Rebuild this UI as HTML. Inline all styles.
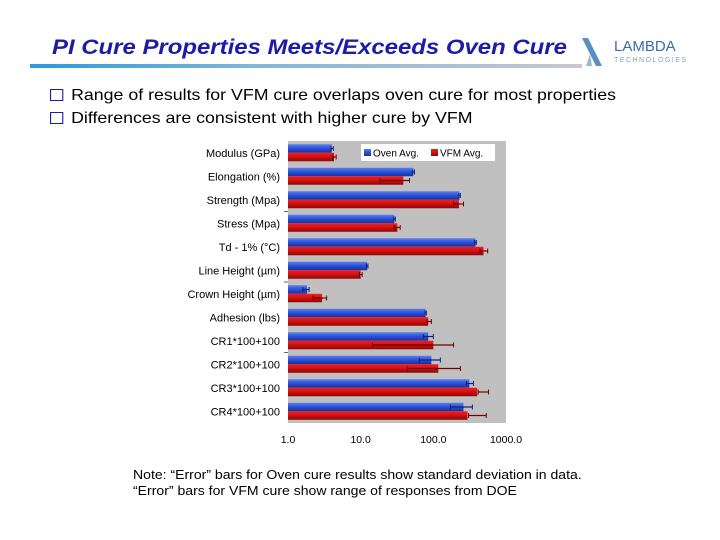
<!DOCTYPE html>
<html><head><meta charset="utf-8"><style>
body{margin:0;background:#fff;font-family:"Liberation Sans",sans-serif;}
#wrap{position:relative;width:720px;height:540px;overflow:hidden;}
.t{position:absolute;white-space:nowrap;transform-origin:0 0;}
</style></head><body>
<div id="wrap">
<div class="t" style="left:52px;top:36px;font-size:21px;font-weight:bold;font-style:italic;color:#1c1ca8;transform:scaleX(1.14);">PI Cure Properties Meets/Exceeds Oven Cure</div>
<div style="position:absolute;left:30px;top:64px;width:552px;height:4px;background:linear-gradient(90deg,#2a9ad8,#7fb6dc 40%,#c8c8d0);"></div>
<svg style="position:absolute;left:578px;top:34px" width="120" height="36">
<path d="M4 4 L18 32 L24 32 L10 4 Z" fill="#5a8fc0"/><path d="M12 20 L8 32 L14 32 Z" fill="#9ab8d4"/>
<text x="36" y="17" font-family="Liberation Sans" font-size="15" fill="#3a6ea8">LAMBDA</text>
<text x="36" y="28" font-family="Liberation Sans" font-size="7" fill="#8aa0b8" letter-spacing="1.5">TECHNOLOGIES</text>
</svg>
<div class="t" style="left:50px;top:87px;font-size:16px;color:#000;transform:scaleX(1.11);"><span style="display:inline-block;width:10px;height:10px;border:1.5px solid #1c1ca8;margin-right:7px;vertical-align:-1px"></span>Range of results for VFM cure overlaps oven cure for most properties</div>
<div class="t" style="left:50px;top:110px;font-size:16px;color:#000;transform:scaleX(1.11);"><span style="display:inline-block;width:10px;height:10px;border:1.5px solid #1c1ca8;margin-right:7px;vertical-align:-1px"></span>Differences are consistent with higher cure by VFM</div>
<svg id="chart" style="position:absolute;left:0;top:0" width="720" height="540"></svg>
<div class="t" style="left:133px;top:467px;font-size:13px;color:#000;transform:scaleX(1.08);">Note: “Error” bars for Oven cure results show standard deviation in data.</div>
<div class="t" style="left:133px;top:483px;font-size:13px;color:#000;transform:scaleX(1.08);">“Error” bars for VFM cure show range of responses from DOE</div>
</div>
<script>
const categories=["Modulus (GPa)","Elongation (%)","Strength (Mpa)","Stress (Mpa)","Td - 1% (°C)","Line Height (µm)","Crown Height (µm)","Adhesion (lbs)","CR1*100+100","CR2*100+100","CR3*100+100","CR4*100+100"];
const ovenAvg=[4.0,53,229,29,380,12.3,1.83,78,85,94,313,260];
const ovenLow=[3.9,52,225,28.5,370,12,1.6,77,73,64,285,172];
const ovenHigh=[4.2,55,235,30,390,12.6,1.95,80,100,125,356,345];
const vfmAvg=[4.3,38.6,225,32,490,10,2.94,85,100,117,402,295];
const vfmLow=[4.1,18.5,190,29,440,9.6,2.2,82,14.5,44,415,305];
const vfmHigh=[4.6,47,260,35,560,10.5,3.4,94,190,236,575,535];
const tickVals=[1,10,100,1000];
const tickLabels=["1.0","10.0","100.0","1000.0"];
const seriesNames=["Oven Avg.","VFM Avg."];

const svg=document.getElementById('chart');
const NS='http://www.w3.org/2000/svg';
const X0=288,X1=506,Y0=141,Y1=423;
const decade=(X1-X0)/3;
function xs(v){return X0+Math.log10(v)*decade;}
const band=(Y1-Y0)/categories.length;
function yc(i){return Y0+band*(i+0.5);}
function el(tag,attrs){const e=document.createElementNS(NS,tag);for(const k in attrs)e.setAttribute(k,attrs[k]);svg.appendChild(e);return e;}
const defs=el('defs',{});
defs.innerHTML='<linearGradient id="gb" x1="0" y1="0" x2="0" y2="1"><stop offset="0" stop-color="#5a7ff0"/><stop offset="0.5" stop-color="#2a4fd8"/><stop offset="1" stop-color="#1a2f98"/></linearGradient><linearGradient id="gr" x1="0" y1="0" x2="0" y2="1"><stop offset="0" stop-color="#f02020"/><stop offset="0.5" stop-color="#d01010"/><stop offset="1" stop-color="#8a0808"/></linearGradient>';
let bg=el('rect',{x:X0,y:Y0,width:X1-X0,height:Y1-Y0,fill:'#c0c0c0'});


categories.forEach((c,i)=>{
  let t=el('text',{x:280,y:yc(i)+4,'text-anchor':'end','font-size':'11','font-family':'Liberation Sans',fill:'#000'});
  t.textContent=c;
  
  
  if(i%3===2&&i<categories.length-1){el('line',{x1:284,x2:X0,y1:Y0+band*(i+1),y2:Y0+band*(i+1),stroke:'#666'});}
  const sets=[[ovenAvg,ovenLow,ovenHigh,'url(#gb)','#102080',-8.5],[vfmAvg,vfmLow,vfmHigh,'url(#gr)','#700000',0]];
  sets.forEach((s,j)=>{
    const y=yc(i)+s[5];
    let b=el('rect',{x:X0,y:y,width:xs(s[0][i])-X0,height:8.5,fill:s[3]});
    
    
    const ey=y+4.25,l=xs(s[1][i]),h=xs(s[2][i]);
    let e=el('line',{x1:l,x2:h,y1:ey,y2:ey,stroke:s[4],'stroke-width':1.2});
    
    
    el('line',{x1:l,x2:l,y1:ey-2.5,y2:ey+2.5,stroke:s[4]});
    el('line',{x1:h,x2:h,y1:ey-2.5,y2:ey+2.5,stroke:s[4]});
  });
});
tickVals.forEach((v,i)=>{
  let t=el('text',{x:xs(v),y:443,'text-anchor':'middle','font-size':'10.5','font-family':'Liberation Sans',fill:'#000'});
  t.textContent=tickLabels[i];
  
  
});
let lg=el('rect',{x:361,y:144,width:134,height:17,fill:'#fff'});


[['url(#gb)',364],['url(#gr)',431]].forEach((s,j)=>{
  el('rect',{x:s[1],y:149,width:7,height:7,fill:s[0]});
  let t=el('text',{x:s[1]+9,y:156.5,'font-size':'10','font-family':'Liberation Sans',fill:'#000'});
  t.textContent=seriesNames[j];
  
  
});
</script>
</body></html>
